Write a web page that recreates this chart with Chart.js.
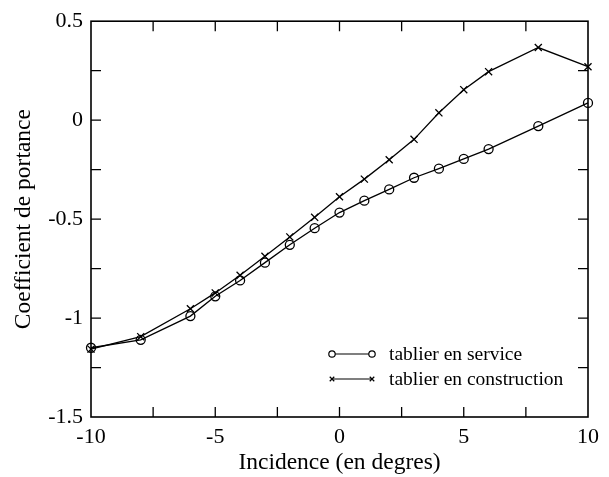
<!DOCTYPE html>
<html>
<head>
<meta charset="utf-8">
<script src="https://cdn.jsdelivr.net/npm/chart.js@4"></script>
<style>
  html, body { margin: 0; padding: 0; background: #fff; }
  #wrap { width: 609px; height: 477px; }
</style>
</head>
<body>
<div id="wrap"><canvas id="portanceChart" width="609" height="477"></canvas></div>
<script>
// Incidence (degres) and coefficient de portance
const incidence = [-10, -8, -6, -5, -4, -3, -2, -1, 0, 1, 2, 3, 4, 5, 6, 8, 10];
const service = [-1.15, -1.11, -0.99, -0.89, -0.81, -0.72, -0.63, -0.546, -0.467, -0.407, -0.35, -0.291, -0.245, -0.196, -0.146, -0.03, 0.087];
const construction = [-1.157, -1.094, -0.953, -0.873, -0.784, -0.688, -0.59, -0.491, -0.387, -0.298, -0.2, -0.097, 0.037, 0.154, 0.245, 0.367, 0.27];

const xTickLabels = [-10, -5, 0, 5, 10];
const yTickLabels = [-1.5, -1, -0.5, 0, 0.5];

const serifFont = "'Liberation Serif', 'Times New Roman', serif";

function toPoints(xs, ys) {
    return xs.map((x, i) => ({ x: x, y: ys[i] }));
}

function isLabelled(list, v) {
    return list.some(t => Math.abs(t - v) < 1e-6);
}

// frame + inward ticks on all four sides
const framePlugin = {
    id: 'frame',
    afterDraw(chart) {
        const ctx = chart.ctx;
        const area = chart.chartArea;
        const xs = chart.scales.x;
        const ys = chart.scales.y;
        ctx.save();
        ctx.strokeStyle = '#000';
        ctx.lineWidth = 1.6;
        ctx.strokeRect(area.left, area.top, area.right - area.left, area.bottom - area.top);
        ctx.lineWidth = 1.3;
        ctx.beginPath();
        xs.ticks.forEach(t => {
            const px = xs.getPixelForValue(t.value);
            if (px <= area.left + 1 || px >= area.right - 1) return;
            ctx.moveTo(px, area.bottom); ctx.lineTo(px, area.bottom - 10);
            ctx.moveTo(px, area.top); ctx.lineTo(px, area.top + 10);
        });
        ys.ticks.forEach(t => {
            const py = ys.getPixelForValue(t.value);
            if (py <= area.top + 1 || py >= area.bottom - 1) return;
            ctx.moveTo(area.left, py); ctx.lineTo(area.left + 10, py);
            ctx.moveTo(area.right, py); ctx.lineTo(area.right - 10, py);
        });
        ctx.stroke();
        ctx.restore();
    }
};

// legend drawn inside the plot, lower right
const legendPlugin = {
    id: 'insideLegend',
    afterDraw(chart) {
        const ctx = chart.ctx;
        const x0 = 332, x1 = 372, textX = 389;
        const rows = [354, 379];
        ctx.save();
        ctx.font = '19.5px ' + serifFont;
        ctx.textBaseline = 'middle';
        chart.data.datasets.forEach((ds, i) => {
            const y = rows[i];
            ctx.strokeStyle = '#000';
            ctx.lineWidth = 1.2;
            ctx.beginPath();
            ctx.moveTo(x0, y); ctx.lineTo(x1, y);
            ctx.stroke();
            [x0, x1].forEach(px => {
                ctx.fillStyle = '#fff';
                Chart.helpers.drawPoint(ctx, {
                    pointStyle: ds.pointStyle, radius: 3.2, rotation: 0, borderWidth: 1.2
                }, px, y);
            });
            ctx.fillStyle = '#000';
            ctx.fillText(ds.label, textX, y + 1);
        });
        ctx.restore();
    }
};

new Chart(document.getElementById('portanceChart'), {
    type: 'line',
    data: {
        datasets: [
            {
                label: 'tablier en service',
                data: toPoints(incidence, service),
                borderColor: '#000',
                backgroundColor: '#fff',
                borderWidth: 1.3,
                pointStyle: 'circle',
                pointRadius: 4.5,
                pointBorderWidth: 1.3,
                pointBackgroundColor: 'rgba(255,255,255,0)',
                pointBorderColor: '#000',
                tension: 0,
                clip: false
            },
            {
                label: 'tablier en construction',
                data: toPoints(incidence, construction),
                borderColor: '#000',
                backgroundColor: '#000',
                borderWidth: 1.3,
                pointStyle: 'crossRot',
                pointRadius: 5,
                pointBorderWidth: 1.3,
                pointBorderColor: '#000',
                tension: 0,
                clip: false
            }
        ]
    },
    options: {
        responsive: false,
        animation: false,
        layout: { padding: { top: 19, right: 21, left: 10, bottom: 0 } },
        plugins: {
            legend: { display: false },
            tooltip: { enabled: false }
        },
        scales: {
            x: {
                type: 'linear',
                min: -10,
                max: 10,
                afterFit(scale) { scale.height = 60; },
                grid: { display: false, drawTicks: false },
                border: { display: false },
                ticks: {
                    stepSize: 2.5,
                    autoSkip: false,
                    maxRotation: 0,
                    padding: 7,
                    color: '#000',
                    font: { family: serifFont, size: 22 },
                    callback: v => isLabelled(xTickLabels, v) ? String(v) : ''
                },
                title: {
                    display: true,
                    text: 'Incidence (en degres)',
                    color: '#000',
                    font: { family: serifFont, size: 23.5 },
                    padding: { top: 0, bottom: 0 }
                }
            },
            y: {
                min: -1.5,
                max: 0.5,
                afterFit(scale) { scale.width = 81; },
                grid: { display: false, drawTicks: false },
                border: { display: false },
                ticks: {
                    stepSize: 0.25,
                    autoSkip: false,
                    padding: 8,
                    color: '#000',
                    font: { family: serifFont, size: 22 },
                    callback: v => isLabelled(yTickLabels, v) ? String(v) : ''
                },
                title: {
                    display: true,
                    text: 'Coefficient de portance',
                    color: '#000',
                    font: { family: serifFont, size: 23.5 },
                    padding: { top: 0, bottom: 0 }
                }
            }
        }
    },
    plugins: [framePlugin, legendPlugin]
});
</script>
</body>
</html>
